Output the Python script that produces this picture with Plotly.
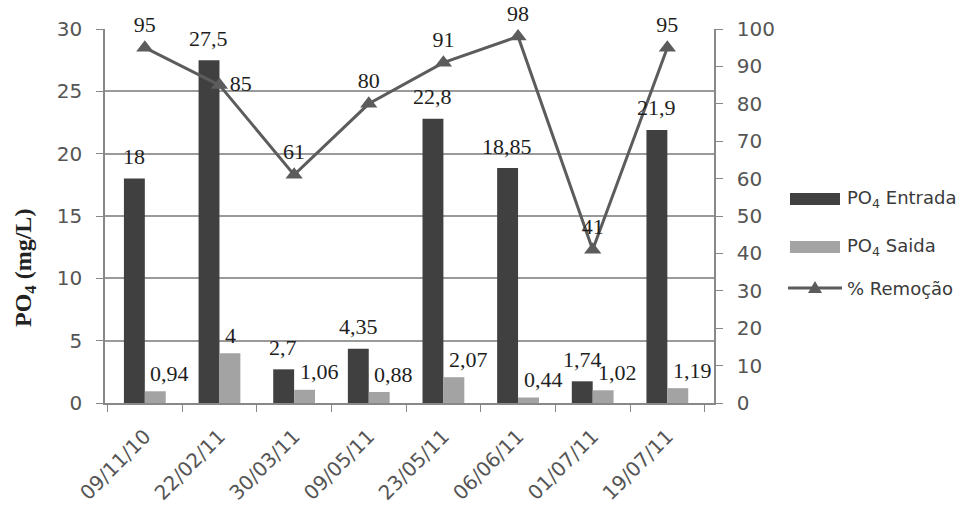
import plotly.graph_objects as go

# Phosphate (PO4) at the inlet and outlet of the treatment system, and removal efficiency
dates = ["09/11/10", "22/02/11", "30/03/11", "09/05/11",
         "23/05/11", "06/06/11", "01/07/11", "19/07/11"]
po4_entrada = [18, 27.5, 2.7, 4.35, 22.8, 18.85, 1.74, 21.9]
po4_saida = [0.94, 4, 1.06, 0.88, 2.07, 0.44, 1.02, 1.19]
remocao = [95, 85, 61, 80, 91, 98, 41, 95]

# Figure geometry (pixels)
W, H = 973, 516
ML, MR, MT, MB = 105, 259, 29, 113
PW, PH = W - ML - MR, H - MT - MB

C_ENTRADA = "#404040"
C_SAIDA = "#a3a3a3"
C_LINE = "#5c5c5c"
C_GRID = "#9a9a9a"
C_TICK = "#555555"
SERIF = "Liberation Serif"
SANS = "DejaVu Sans"


def fmt(v):
    return f"{v:g}".replace(".", ",")


def px(xp):
    return (xp - ML) / PW


def py(yp):
    return (H - MB - yp) / PH


fig = go.Figure()

fig.add_trace(go.Bar(x=dates, y=po4_entrada, name="PO4 Entrada",
                     marker=dict(color=C_ENTRADA, line=dict(width=0)),
                     showlegend=False))
fig.add_trace(go.Bar(x=dates, y=po4_saida, name="PO4 Saida",
                     marker=dict(color=C_SAIDA, line=dict(width=0)),
                     showlegend=False))

line_text_pos = ["top center", "middle right", "top center", "top center",
                 "top center", "top center", "top center", "top center"]
fig.add_trace(go.Scatter(x=dates, y=remocao, yaxis="y2", name="% Remoção",
                         mode="lines+markers+text",
                         line=dict(color=C_LINE, width=3),
                         marker=dict(symbol="triangle-up", size=15, color=C_LINE),
                         text=[fmt(v) for v in remocao],
                         textposition=line_text_pos,
                         textfont=dict(family=SERIF, size=22, color="#1e1e1e"),
                         cliponaxis=False, showlegend=False))

BARGAP = 0.44
half_bar = PW / len(dates) * (1 - BARGAP) / 4

annotations = []
for d, v in zip(dates, po4_entrada):
    annotations.append(dict(x=d, y=v, xref="x", yref="y", text=fmt(v),
                            showarrow=False, xshift=-half_bar, yshift=22,
                            yanchor="middle", xanchor="center",
                            font=dict(family=SERIF, size=22, color="#1e1e1e")))
for d, v in zip(dates, po4_saida):
    annotations.append(dict(x=d, y=v, xref="x", yref="y", text=fmt(v),
                            showarrow=False, xshift=half_bar - 7, yshift=18,
                            yanchor="middle", xanchor="left",
                            font=dict(family=SERIF, size=22, color="#1e1e1e")))

# Y axis title
annotations.append(dict(x=px(25), y=py(268), xref="paper", yref="paper",
                        text="<b>PO<sub>4</sub> (mg/L)</b>", textangle=-90,
                        showarrow=False, xanchor="center", yanchor="middle",
                        font=dict(family=SERIF, size=24, color="#222222")))

# Legend
shapes = []
legend_rows = [("PO<sub>4</sub> Entrada", 199), ("PO<sub>4</sub> Saida", 247),
               ("% Remoção", 288)]
for label, yc in legend_rows:
    annotations.append(dict(x=px(845), y=py(yc), xref="paper", yref="paper",
                            text=label, showarrow=False, xanchor="left",
                            yanchor="middle",
                            font=dict(family=SANS, size=18, color="#3a3a3a")))
shapes.append(dict(type="rect", xref="paper", yref="paper",
                   x0=px(790), x1=px(840), y0=py(205), y1=py(193),
                   fillcolor=C_ENTRADA, line=dict(width=0)))
shapes.append(dict(type="rect", xref="paper", yref="paper",
                   x0=px(790), x1=px(840), y0=py(253), y1=py(241),
                   fillcolor=C_SAIDA, line=dict(width=0)))
shapes.append(dict(type="line", xref="paper", yref="paper",
                   x0=px(788), x1=px(842), y0=py(288), y1=py(288),
                   line=dict(color=C_LINE, width=3)))
tri = [(815, 281), (822, 293), (808, 293)]
path = "M{},{} L{},{} L{},{} Z".format(*[c for p in tri for c in (px(p[0]), py(p[1]))])
shapes.append(dict(type="path", xref="paper", yref="paper", path=path,
                   fillcolor=C_LINE, line=dict(width=0)))

fig.update_layout(
    width=W, height=H,
    margin=dict(l=ML, r=MR, t=MT, b=MB),
    paper_bgcolor="white", plot_bgcolor="white",
    barmode="group", bargap=BARGAP, bargroupgap=0,
    showlegend=False,
    annotations=annotations,
    shapes=shapes,
    xaxis=dict(type="category", tickangle=-45, tickson="boundaries",
               ticks="outside", ticklen=7, tickcolor="#888888",
               showline=True, linecolor="#888888", linewidth=1.5,
               showgrid=False, ticklabelstandoff=12,
               tickfont=dict(family=SANS, size=20, color=C_TICK)),
    yaxis=dict(range=[0, 30], dtick=5, ticks="outside", ticklen=7,
               tickcolor="#888888", showline=True, linecolor="#888888",
               linewidth=1.5, showgrid=True, gridcolor=C_GRID, gridwidth=1.5,
               zeroline=False, ticklabelstandoff=10,
               tickfont=dict(family=SANS, size=20, color=C_TICK)),
    yaxis2=dict(range=[0, 100], dtick=10, overlaying="y", side="right",
                ticks="outside", ticklen=7, tickcolor="#888888",
                showline=True, linecolor="#888888", linewidth=1.5,
                showgrid=False, zeroline=False, ticklabelstandoff=10,
                tickfont=dict(family=SANS, size=20, color=C_TICK)),
)

fig.write_html("out.html")
